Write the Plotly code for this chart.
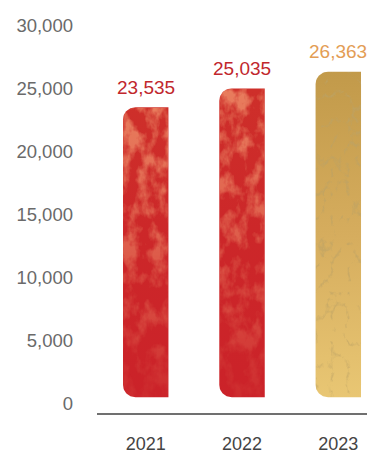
import base64
import numpy as np
import plotly.graph_objects as go

# Data
years = ["2021", "2022", "2023"]
values = [23535, 25035, 26363]
value_label_colors = ["#c1272d", "#c1272d", "#e39d55"]
bar_gradients = [
    [[0.0, "#cb2229"], [0.55, "#cc2729"], [1.0, "#ce2f2a"]],
    [[0.0, "#cb2229"], [0.55, "#cc2729"], [1.0, "#ce2f2a"]],
    [[0.0, "#e9c774"], [0.5, "#d6ad5e"], [1.0, "#c29a4a"]],
]
# texture: noise type, base frequency, colour (r, g, b), alpha slope,
# alpha offset, strength at top, strength at bottom, seed
textures = [
    ("fractalNoise", "0.07 0.045", (0.88, 0.31, 0.16), 3.5, -1.5, 0.75, 0.08, 3),
    ("fractalNoise", "0.07 0.045", (0.88, 0.31, 0.16), 3.5, -1.5, 0.75, 0.08, 8),
    ("turbulence", "0.06 0.04", (0.50, 0.36, 0.13), -6.0, 1.25, 0.75, 0.45, 11),
]
y_ticks = [0, 5000, 10000, 15000, 20000, 25000, 30000]

# Styling / geometry
W, H = 367, 454
M_L, M_R, M_T, M_B = 97, 0, 26, 36
Y_RANGE = [-785, 30000]
X_RANGE = [-0.506, 2.298]
BAR_BASE = 470          # bars float slightly above the zero line
BAR_HALF = 0.236        # half bar width in category units
RADIUS_PX = 12.5
FONT = "Liberation Sans, Arial, Helvetica, sans-serif"

plot_w = W - M_L - M_R
plot_h = H - M_T - M_B
px_per_x = plot_w / (X_RANGE[1] - X_RANGE[0])
px_per_y = plot_h / (Y_RANGE[1] - Y_RANGE[0])
rx = RADIUS_PX / px_per_x
ry = RADIUS_PX / px_per_y


def bar_outline(xc, top, base):
    """Bar with rounded left corners (top-left and bottom-left)."""
    xl, xr = xc - BAR_HALF, xc + BAR_HALF
    t1 = np.linspace(np.pi / 2, np.pi, 16)
    t2 = np.linspace(np.pi, 1.5 * np.pi, 16)
    xs = [xr, xr]
    ys = [base, top]
    xs += list(xl + rx + rx * np.cos(t1))
    ys += list(top - ry + ry * np.sin(t1))
    xs += list(xl + rx + rx * np.cos(t2))
    ys += list(base + ry + ry * np.sin(t2))
    xs.append(xr)
    ys.append(base)
    return xs, ys


def marble_svg(w, h, tex):
    """Marble texture clipped to the bar outline (pixel units)."""
    kind, freq, rgb, slope, offset, s_top, s_bot, seed = tex
    r = RADIUS_PX
    path = (f"M{w:.2f},0 L{r},0 A{r},{r} 0 0 0 0,{r} L0,{h - r:.2f} "
            f"A{r},{r} 0 0 0 {r},{h:.2f} L{w:.2f},{h:.2f} Z")
    cr, cg, cb = rgb
    s_mid = s_bot + 0.6 * (s_top - s_bot)
    svg = f"""<svg xmlns="http://www.w3.org/2000/svg" width="{w:.1f}" height="{h:.1f}" viewBox="0 0 {w:.2f} {h:.2f}">
<defs>
<filter id="f" x="0" y="0" width="{w:.2f}" height="{h:.2f}" filterUnits="userSpaceOnUse">
<feTurbulence type="{kind}" baseFrequency="{freq}" numOctaves="4" seed="{seed}"/>
<feColorMatrix type="matrix" values="0 0 0 0 {cr} 0 0 0 0 {cg} 0 0 0 0 {cb} {slope} 0 0 0 {offset}"/>
</filter>
<linearGradient id="g" x1="0" y1="0" x2="0" y2="1">
<stop offset="0" stop-color="white" stop-opacity="{s_top}"/>
<stop offset="0.5" stop-color="white" stop-opacity="{s_mid:.2f}"/>
<stop offset="1" stop-color="white" stop-opacity="{s_bot}"/>
</linearGradient>
<mask id="m"><rect x="0" y="0" width="{w:.2f}" height="{h:.2f}" fill="url(#g)"/></mask>
<clipPath id="c"><path d="{path}"/></clipPath>
</defs>
<g clip-path="url(#c)"><g mask="url(#m)"><rect x="0" y="0" width="{w:.2f}" height="{h:.2f}" fill="black" filter="url(#f)"/></g></g>
</svg>"""
    return "data:image/svg+xml;base64," + base64.b64encode(svg.encode()).decode()


fig = go.Figure()

for i, (yr, v) in enumerate(zip(years, values)):
    xs, ys = bar_outline(i, v, BAR_BASE)
    fig.add_trace(go.Scatter(
        x=xs, y=ys, mode="lines", fill="toself",
        line=dict(width=0, color="rgba(0,0,0,0)"),
        fillgradient=dict(type="vertical", colorscale=bar_gradients[i],
                          start=BAR_BASE, stop=v),
        hoverinfo="skip", showlegend=False,
    ))
    fig.add_layout_image(
        source=marble_svg(2 * BAR_HALF * px_per_x, (v - BAR_BASE) * px_per_y,
                          textures[i]),
        xref="x", yref="y", x=i - BAR_HALF, y=v,
        sizex=2 * BAR_HALF, sizey=v - BAR_BASE,
        xanchor="left", yanchor="top", sizing="stretch", layer="above",
    )
    fig.add_annotation(
        x=i, y=v, xref="x", yref="y", text=f"{v:,}",
        showarrow=False, yanchor="middle", yshift=20,
        font=dict(family=FONT, size=19, color=value_label_colors[i]),
    )

fig.update_layout(
    width=W, height=H,
    margin=dict(l=M_L, r=M_R, t=M_T, b=M_B),
    paper_bgcolor="white", plot_bgcolor="white",
    showlegend=False,
    font=dict(family=FONT),
    xaxis=dict(
        range=X_RANGE, tickmode="array", tickvals=list(range(len(years))),
        ticktext=years, showgrid=False, zeroline=False,
        showline=True, linecolor="#707070", linewidth=1.5,
        ticks="", ticklabelstandoff=14,
        tickfont=dict(family=FONT, size=18, color="#444444"),
        fixedrange=True,
    ),
    yaxis=dict(
        range=Y_RANGE, tickmode="array", tickvals=y_ticks,
        ticktext=[f"{t:,}" for t in y_ticks], showgrid=False,
        zeroline=False, showline=False, ticks="", ticklabelstandoff=23,
        tickfont=dict(family=FONT, size=18.5, color="#6a6a6a"),
        fixedrange=True,
    ),
)

fig.write_html("out.html")
